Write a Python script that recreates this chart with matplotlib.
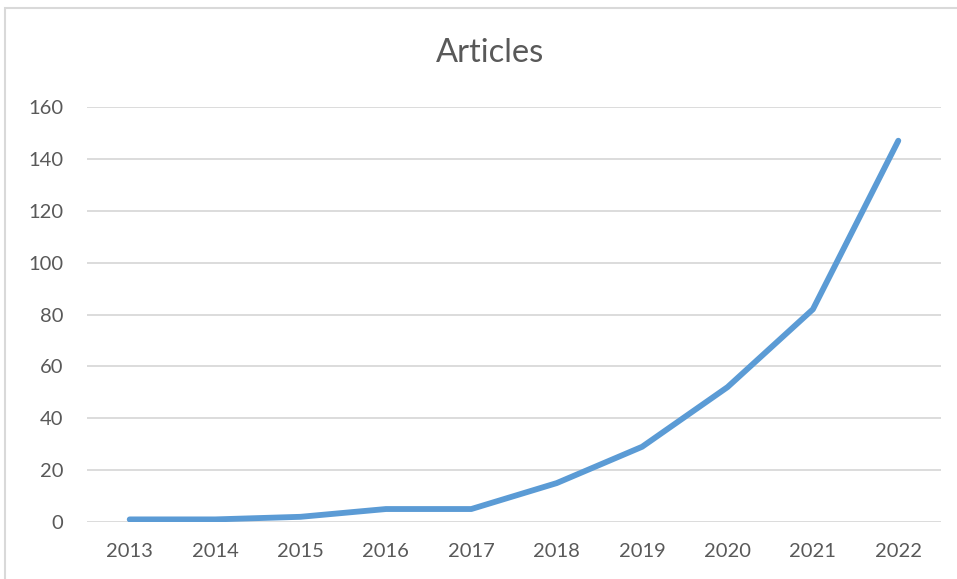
import matplotlib.pyplot as plt
from matplotlib.patches import Rectangle

# data
years = ["2013", "2014", "2015", "2016", "2017", "2018", "2019", "2020", "2021", "2022"]
articles = [1, 1, 2, 5, 5, 15, 29, 52, 82, 147]
y_ticks = [0, 20, 40, 60, 80, 100, 120, 140, 160]

plt.rcParams['font.family'] = ['Lato', 'DejaVu Sans']

fig = plt.figure(figsize=(9.57, 5.79), dpi=100)

# chart-area frame (light grey), partly off the image like the screenshot
fig.patches.append(Rectangle((5 / 957, -0.1), 1.2, 1 - 8 / 579 + 0.1,
                             transform=fig.transFigure, fill=False,
                             edgecolor='#d9d9d9', linewidth=1.5))

ax = fig.add_axes([87 / 957, 1 - 522 / 579, (941 - 87) / 957, (522 - 107) / 579])
x = list(range(len(years)))
ax.plot(x, articles, color='#5b9bd5', linewidth=4.2, solid_capstyle='round',
        solid_joinstyle='round', zorder=3)

ax.set_xlim(-0.5, len(years) - 0.5)
ax.set_ylim(0, 160)
ax.set_xticks(x)
ax.set_xticklabels(years)
ax.set_yticks(y_ticks)
ax.grid(axis='y', color='#d9d9d9', linewidth=1.3)
ax.set_axisbelow(True)
for s in ax.spines.values():
    s.set_visible(False)
ax.tick_params(axis='both', length=0, colors='#595959', labelsize=14.5)
ax.tick_params(axis='x', pad=15)
ax.tick_params(axis='y', pad=17)

fig.text(490 / 957, 1 - 53 / 579, "Articles", ha='center', va='center',
         fontsize=23.5, color='#595959')

fig.savefig("out.png", dpi=100)
